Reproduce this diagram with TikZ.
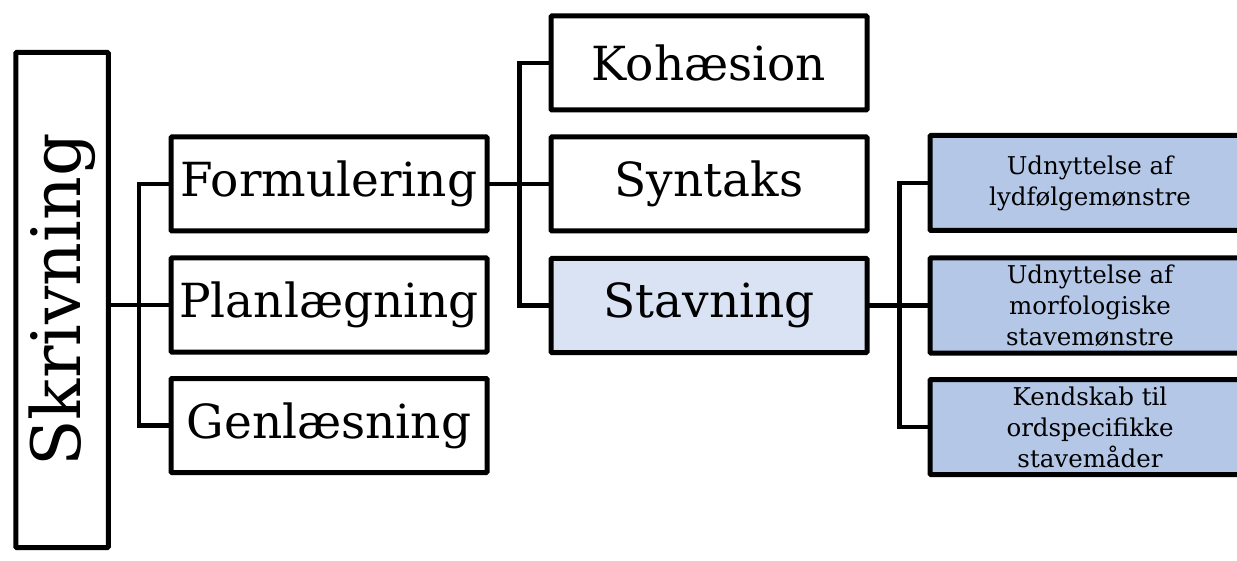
\documentclass[tikz,border=0pt]{standalone}
\usepackage{fontspec}
\setmainfont{DejaVu Serif}
\definecolor{lightblue}{HTML}{DAE3F3}
\definecolor{midblue}{HTML}{B4C7E7}
\tikzset{
  box/.style={draw=black, line width=5pt, rounded corners=1pt, inner sep=0pt, outer sep=0pt, align=center},
  bigbox/.style={box, minimum width=316pt, minimum height=94pt, font=\fontsize{47}{56}\selectfont},
  smallbox/.style={box, fill=midblue, minimum width=320pt, minimum height=95pt, font=\fontsize{24.5}{31}\selectfont},
  conn/.style={draw=black, line width=4.8pt, line join=miter}
}
\begin{document}
\begin{tikzpicture}[x=1pt, y=-1pt]
\useasboundingbox (0,0) rectangle (1237,561);
\clip (0,0) rectangle (1237,561);
% root
\node[box, rotate=90, minimum width=495pt, minimum height=92.5pt, font=\fontsize{68}{80}\selectfont] (skr) at (62,300) {Skrivning};
% level 1
\node[bigbox] (form) at (329,184) {Formulering};
\node[bigbox] (plan) at (329,305) {Planlægning};
\node[bigbox] (gen) at (329,425.5) {Genlæsning};
% level 2
\node[bigbox] (koh) at (709,63) {Kohæsion};
\node[bigbox] (syn) at (709,184) {Syntaks};
\node[bigbox, fill=lightblue] (stav) at (709,305.5) {Stavning};
% level 3
\node[smallbox] (b1) at (1090,183) {Udnyttelse af\\lydfølgemønstre};
\node[smallbox] (b2) at (1090,305.5) {Udnyttelse af\\morfologiske\\stavemønstre};
\node[smallbox] (b3) at (1090,427) {Kendskab til\\ordspecifikke\\stavemåder};
% junctions
\coordinate (j1) at (139,305);
\coordinate (j2) at (519.5,184);
\coordinate (j3) at (899.5,305.5);
% connectors
\draw[conn] (skr.south |- plan.west) -- (plan.west);
\draw[conn] (form.west) -| (j1) |- (gen.west);
\draw[conn] (form.east) -- (syn.west);
\draw[conn] (koh.west) -| (j2) |- (stav.west);
\draw[conn] (stav.east) -- (b2.west);
\draw[conn] (b1.west) -| (j3) |- (b3.west);
\end{tikzpicture}
\end{document}
